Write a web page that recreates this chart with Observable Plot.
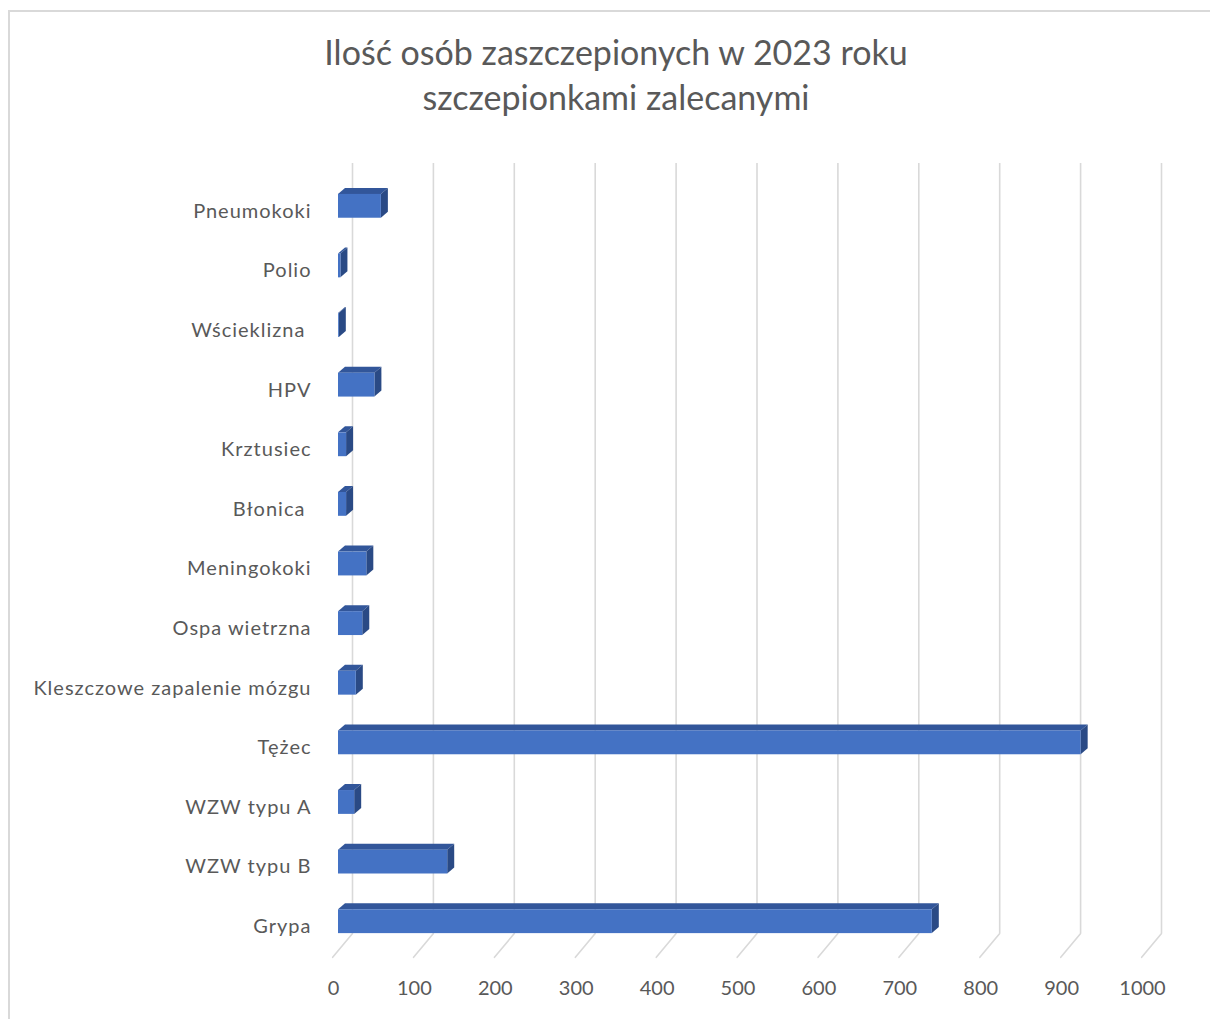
<!DOCTYPE html>
<html>
<head>
<meta charset="utf-8">
<script src="https://cdn.jsdelivr.net/npm/d3@7"></script>
<script src="https://cdn.jsdelivr.net/npm/@observablehq/plot@0.6"></script>
<style>
  html, body { margin: 0; padding: 0; background: #fff; }
  body { font-family: Lato, "Open Sans", sans-serif; width: 1210px; height: 1019px; overflow: hidden; position: relative; }
  #border { position: absolute; left: 8px; top: 10px; width: 1400px; height: 1200px;
            border-left: 2px solid #d9d9d9; border-top: 2px solid #d9d9d9; pointer-events: none; }
  #title { position: absolute; left: 0; top: 0; width: 1232px; height: 130px; text-align: center;
           color: #595959; font-size: 34px; line-height: 45px; padding-top: 29px; box-sizing: border-box; }
  #chart { position: absolute; left: 0; top: 130px; }
  #chart svg text { white-space: pre; }
</style>
</head>
<body>
<div id="border"></div>
<div id="title">Ilość osób zaszczepionych w 2023 roku<br>szczepionkami zalecanymi</div>
<div id="chart"></div>
<script>
const categories = ["Pneumokoki", "Polio", "Wścieklizna ", "HPV", "Krztusiec", "Błonica ",
  "Meningokoki", "Ospa wietrzna", "Kleszczowe zapalenie mózgu", "Tężec", "WZW typu A", "WZW typu B", "Grypa"];
const values = [53, 3, 1, 45, 10, 10, 35, 30, 22, 918, 20, 135, 734];
const xTicks = [0, 100, 200, 300, 400, 500, 600, 700, 800, 900, 1000];

const data = categories.map((name, i) => ({name, value: values[i]}));

const DEPTH_X = 7, DEPTH_Y = 6;
const svgns = "http://www.w3.org/2000/svg";

function box3d(index, scales, vals, dims, context, next) {
  const g = next(index, scales, vals, dims, context);
  const rects = Array.from(g.querySelectorAll("rect"));
  for (const r of rects) {
    const x = +r.getAttribute("x"), y = +r.getAttribute("y");
    const w = +r.getAttribute("width"), h = +r.getAttribute("height");
    const top = document.createElementNS(svgns, "polygon");
    top.setAttribute("points", `${x},${y} ${x + DEPTH_X},${y - DEPTH_Y} ${x + w + DEPTH_X},${y - DEPTH_Y} ${x + w},${y}`);
    top.setAttribute("fill", "#32569A");
    const side = document.createElementNS(svgns, "polygon");
    side.setAttribute("points", `${x + w},${y} ${x + w + DEPTH_X},${y - DEPTH_Y} ${x + w + DEPTH_X},${y + h - DEPTH_Y} ${x + w},${y + h}`);
    side.setAttribute("fill", "#2A4A85");
    r.parentNode.insertBefore(top, r);
    r.parentNode.insertBefore(side, r);
  }
  return g;
}

function spaced(index, scales, vals, dims, context, next) {
  const g = next(index, scales, vals, dims, context);
  g.setAttribute("letter-spacing", "1");
  return g;
}

const floorShape = { draw(context, l) { context.moveTo(0, 0); context.lineTo(0, -l); } };

const chart = Plot.plot({
  width: 1210,
  height: 889,
  marginLeft: 338,
  marginRight: 63,
  marginTop: 33,
  marginBottom: 86,
  style: { fontFamily: "Lato, 'Open Sans', sans-serif", background: "transparent" },
  x: { domain: [0, 1000], axis: null },
  y: { domain: categories, range: [46, 821], paddingInner: 0.6, paddingOuter: 0.3, round: false, axis: null },
  marks: [
    Plot.ruleX(xTicks, { x: d => d, dx: 14, stroke: "#d9d9d9", strokeWidth: 1.6 }),
    Plot.vector(xTicks, { x: d => d, frameAnchor: "bottom", dx: 14, anchor: "start", length: 31,
      rotate: 219.8, shape: floorShape, stroke: "#d9d9d9", strokeWidth: 1.6 }),
    Plot.barX(data, { x: "value", y: "name", fill: "#4472C4", render: box3d }),
    Plot.text(data, { y: "name", text: "name", frameAnchor: "left", dx: -27, dy: 5, render: spaced,
      textAnchor: "end", fill: "#595959", fontSize: 20 }),
    Plot.text(xTicks, { x: d => d, text: d => String(d), frameAnchor: "bottom", dx: -5, dy: 61,
      fill: "#595959", fontSize: 20 })
  ]
});
document.getElementById("chart").appendChild(chart);
</script>
</body>
</html>
